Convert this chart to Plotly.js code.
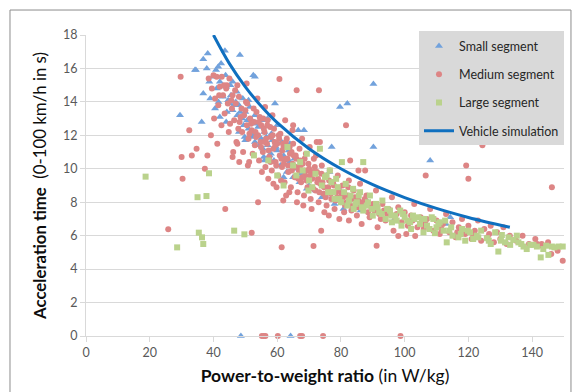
<!DOCTYPE html>
<html>
<head>
<meta charset="utf-8">
<script src="https://cdn.plot.ly/plotly-3.0.1.min.js"></script>
<style>html,body{margin:0;padding:0;background:#fff;}#chart{width:572px;height:392px;}</style>
</head>
<body>
<div id="chart"></div>
<script>
// Series names
const seriesNames = ["Small segment", "Medium segment", "Large segment", "Vehicle simulation"];

// Small segment (x: W/kg, y: s)
const smallX = [29.5,36.3,36.8,38.2,34.5,37.9,43.6,48.3,53.0,36.8,38.7,90.2,79.7,82.0,66.6,68.4,90.2,77.1,108,48.6,64.2,
  34.2,52.5,59.3,76.4,79.7,74.0,80.8,86.2,69.3,88.1,96.5,114.3,113,
  40,41,42,43,44,45,45.5,46,47,47.5,48,49,49.5,50,51,52,52.5,53,54,55,55.5,56,57,58,58.5,59,60,61,62,63,64,65,66,67,68,70,72,75,78,
  39,40.5,41.5,42,44,46,48,50,51,53,56,57,60,62,64,
  40.8,42.4,43.8,44.6,45.3,46.4,47.3,48.4,49.2,50.6,51.4,52.2,53.6,54.4,55.2,56.6,57.6,58.2,59.6,61.4,62.6,63.6,65.4,66.8,55.8,49.8,41.6,44.2];
const smallY = [13.2,12.8,16.55,16.9,15.9,16.0,17.06,16.8,15.5,14.5,15.2,15.07,13.7,13.9,12.3,12.3,11.3,11.3,10.5,0,0,
  15.9,15.6,13.9,9.8,8.7,8.3,7.6,7.5,8.8,8.1,6.9,7.1,6.7,
  15.5,14.8,15.2,14.3,14.9,13.9,14.4,13.5,14.0,13.2,13.8,13.0,12.6,13.4,12.4,12.9,12.0,11.6,12.5,11.8,11.2,12.2,11.4,10.9,11.7,10.5,11.1,10.2,10.8,9.8,10.4,9.5,10.0,9.2,9.7,9.0,8.7,8.4,7.9,
  14.2,13.6,16.1,13.1,12.8,15.2,12.2,11.7,14.1,13.2,10.5,13.0,12.6,9.5,11.5,
  15.9,16.3,15.6,14.1,15.0,13.8,14.6,13.4,14.2,12.9,13.7,11.9,12.7,11.4,12.9,11.9,10.8,12.1,11.3,11.6,10.5,11.1,10.6,9.7,10.7,11.9,14.0,13.4];

// Medium segment
const mediumX = [38.5,39.5,40,40.5,41,41.5,42,42.6,43,43.5,44,44.5,45,45.2,45.8,46,46.5,47,47.2,47.8,48,48.5,49,49.3,50,50.4,50.5,51,51.5,52,52.3,52.8,53,53.5,54,54.3,54.8,55,55.5,56,56.3,56.8,57,57.5,58,58.3,58.8,59,59.5,60,60.3,60.8,61,61.5,62,62.3,62.8,63,63.5,64,64.3,64.8,65,65.5,66,66.4,66.8,67,67.5,68,68.4,68.8,69,69.5,70,70.5,71,71.5,72,72.5,73,73.5,74,74.5,75,75.5,76,76.5,77,77.5,78,78.5,79,80,80.5,81,82,82.5,83,84,85,85.5,86,87,88,89,90,91,92,93,94,95,96,97,98,99,100,101,102,103,104,105,106,107,108,109,110,111,112,113,114,115,116,117,118,119,120,121,122,123,124,125,126,127,128,129,130,131,132,133,135,137,139,141,143,145,148,149.6,146,
  44.2,46.8,48.8,50.2,51.8,53.2,54.5,55.8,56.5,57.8,59.2,60.5,61.8,63.2,64.5,65.8,67.2,68.5,69.8,71.2,72.8,74.2,75.8,77.2,78.8,80.2,81.8,83.5,85.2,86.8,88.5,90.5,92.5,94.5,57.2,59.8,61.2,63.8,66.2,68.2,70.8,74.8,76.2,79.5,82.5,86.5,91.5,96.5,100.5,53.8,56.2,58.5,62.5,64.8,67.8,70.2,72.2,47.5,44.8,42.5,40.2,39.2,41.2,46.2,50.8,55.2,58.8,62.8,
  50.6,51.3,52.6,53.4,54.2,54.9,55.6,56.1,56.9,57.3,57.9,58.6,59.4,59.7,60.6,61.3,61.6,62.1,62.7,63.4,63.9,64.6,65.2,65.9,66.6,67.3,67.9,68.6,69.2,69.7,70.4,71.3,71.8,72.6,73.2,73.9,74.7,75.2,76.3,76.8,77.8,78.3,79.3,80.7,81.3,82.3,83.3,84.4,85.8,87.5,89.5,93.5,97.5,102.5,106.5,111.5,116.5,121.5,126.5,48.2,49.6,45.6,43.3,41.8,
  25.8,43.7,52.0,54.0,61.9,61.4,73.8,71.4,91.2,98.0,103.3,29.7,32.4,30.0,33.2,34.7,38.1,30.3,37.3,60.7,66.1,73.1,81.6,124.4,119.3,106.6,120,146.2,46,48.1,51.2,47.5,82.9,85.5,87.6,65,72.4,73.4,141.6,143,
  55.2,55.8,56.3,60.2,67.2,67.8,74.4,98.7];
const mediumY = [15.4,14.8,15.6,14.2,15.5,13.8,14.9,15.5,14.4,13.3,14.8,13.9,15.4,12.7,13.6,14.4,12.9,13.9,11.6,12.4,14.3,13.1,12.2,11.0,13.5,15.1,12.6,11.8,13.0,12.3,10.9,12.8,11.4,13.4,12.0,10.5,11.6,12.6,11.0,12.2,10.1,11.5,12.9,10.7,11.9,9.9,11.2,12.4,10.4,11.5,9.6,10.8,12.1,10.1,11.3,9.2,10.6,11.8,9.8,10.9,8.9,10.3,11.5,9.5,10.6,8.6,9.9,11.2,9.2,10.3,8.4,9.6,10.9,8.9,10.0,8.2,9.4,10.6,8.7,9.8,8.0,9.1,10.2,8.5,9.5,7.8,8.9,9.9,8.2,9.2,7.6,8.6,9.6,8.0,9.0,7.4,8.4,9.3,7.8,8.7,7.2,8.1,9.1,7.6,8.4,7.1,7.9,8.7,7.3,7.9,6.9,7.6,8.3,7.1,7.7,6.8,7.4,6.6,7.2,7.9,6.5,7.1,6.4,7.0,7.6,6.3,6.9,6.1,6.7,7.3,6.2,6.8,5.9,6.5,7.0,6.1,6.6,5.8,6.3,6.9,5.7,6.4,5.9,6.6,5.6,6.2,5.8,6.5,5.5,6.0,5.7,6.0,5.5,5.8,5.4,5.6,5.1,4.5,4.9,
  15.0,14.7,13.6,14.0,12.7,12.2,13.1,12.4,11.8,12.5,11.6,12.0,11.5,10.6,11.0,10.8,10.5,9.9,10.3,9.8,9.4,9.2,8.8,8.6,8.3,8.5,8.0,8.2,7.7,8.0,7.4,7.5,7.0,7.3,9.4,8.9,9.3,8.6,8.0,7.8,7.6,7.4,7.2,7.0,6.9,6.7,6.5,6.3,6.1,14.2,13.7,13.2,12.9,12.3,11.8,11.3,10.8,15.0,12.2,12.6,13.0,12.0,11.5,11.0,10.2,9.8,9.1,8.4,
  13.9,12.1,13.6,11.9,12.8,11.3,13.0,11.6,12.6,11.1,10.4,12.0,11.4,10.2,11.8,10.6,11.1,10.3,11.6,10.2,11.3,9.9,10.8,10.1,9.4,10.2,9.5,10.6,9.3,9.9,9.6,8.8,10.1,9.2,8.6,9.7,8.9,8.3,9.3,8.5,9.0,8.1,8.8,8.3,7.8,8.9,7.5,8.3,7.9,8.2,7.7,7.5,7.3,6.9,6.7,6.4,6.2,6.0,6.1,12.8,13.2,14.1,15.0,14.4,
  6.38,7.6,6.18,8.0,8.1,5.3,6.3,5.38,5.4,5.98,5.98,15.5,12.3,10.7,10.8,11.2,10.8,9.4,10.0,15.37,14.7,14.7,12.6,11.4,10.2,9.6,9.4,8.9,10.7,10.4,10.4,11.5,10.5,9.9,9.9,12.6,11.6,11.6,5.5,5.5,
  0,0,0,0,0,0,0,0];

// Large segment
const largeX = [18.7,28.6,35.0,37.8,35.4,36.4,36.8,46.5,49.7,38.6,
  65,66,68,69.3,70,71,72,73.4,74,75,75.5,76,77,77.6,78,79,80.3,80,81,82,83,84,85,86,87,87,88.1,89.1,90,91,92,93,94,95.4,96,97,98.6,99,100,101.7,102,103,104.3,105.4,105.9,107,108.5,109,109.5,110,111,112.7,113.2,114,115,116.9,118,119,120.5,121.5,123.1,124,125.8,127,128.4,129.4,130.5,131.5,132.6,133.1,134.1,135.2,135.7,137.3,138.3,139.4,140.4,141.5,142.7,143.5,145.1,146.2,147,148.3,149.6,
  52.7,57.2,63.2,67.2,69.8,60,62,
  76.5,78.5,79.5,81.5,82.5,83.8,84.6,85.6,86.6,88.5,89.8,91.5,92.8,94.5,95.8,97.5,99.5,100.8,102.6,104.8,106.2,107.8,110.6,112.2,114.6,117.6,119.8,122.6,126.4,130.2,136.6,144.4];
const largeY = [9.53,5.3,8.3,8.37,6.18,5.9,5.5,6.3,6.08,9.73,
  10.2,9.6,9.9,10.9,9.3,8.9,9.7,11.2,9.0,9.5,9.6,8.6,9.2,8.6,8.2,8.9,10.4,8.0,8.6,7.8,8.4,7.6,8.0,8.6,10.4,7.5,7.8,8.4,7.2,7.9,7.4,8.1,7.0,7.5,6.8,7.2,7.5,6.6,7.1,6.8,6.4,7.0,7.1,7.0,6.2,6.6,7.1,7.0,6.15,6.5,6.8,6.9,5.6,6.3,6.0,5.9,6.4,5.7,6.2,5.8,5.9,6.3,5.85,5.5,6.2,5.05,6.04,5.6,5.9,5.45,5.75,6.0,5.6,5.35,5.2,5.45,5.45,5.35,4.7,5.2,4.85,5.35,5.3,5.35,5.35,
  10.8,10.5,11.3,10.4,8.7,9.6,9.0,
  9.9,9.4,8.2,9.1,8.1,8.8,7.9,8.4,7.7,8.0,7.6,7.7,7.3,7.6,7.2,6.9,7.3,6.9,7.2,6.7,7.0,6.4,6.7,6.3,6.5,6.1,6.3,6.0,5.7,5.7,5.5,5.4];

// Vehicle simulation curve
const simX = [40,45,50,55,60,70,80,90,100,110,120,133];
const simY = [18,16.29,14.9,13.74,12.76,11.2,10.0,9.05,8.28,7.63,7.09,6.5];

const FONT = "Lato, 'Open Sans', sans-serif";

const traces = [
  {x: smallX, y: smallY, name: seriesNames[0], type: 'scatter', mode: 'markers', legendgroup: 'a', cliponaxis: false,
   marker: {symbol: 'triangle-up', size: 7, color: '#72a2dc'}},
  {x: mediumX, y: mediumY, name: seriesNames[1], type: 'scatter', mode: 'markers', legendgroup: 'b', cliponaxis: false,
   marker: {symbol: 'circle', size: 6, color: '#dd8585'}},
  {x: largeX, y: largeY, name: seriesNames[2], type: 'scatter', mode: 'markers', legendgroup: 'c', cliponaxis: false,
   marker: {symbol: 'square', size: 6, color: '#bad28c'}},
  {x: simX, y: simY, name: seriesNames[3], type: 'scatter', mode: 'lines', legendgroup: 'd',
   line: {color: '#0f6fbf', width: 3, shape: 'spline'}}
];

const layout = {
  width: 572, height: 392,
  margin: {l: 86, r: 8, t: 35, b: 56, autoexpand: false},
  paper_bgcolor: '#ffffff', plot_bgcolor: '#ffffff',
  font: {family: FONT, size: 12, color: '#595959'},
  showlegend: true,
  legend: {x: 1.0, y: 1.012, xanchor: 'right', yanchor: 'top', bgcolor: '#d9d9d9',
    font: {family: FONT, size: 12.5, color: '#262626'}, traceorder: 'grouped', tracegroupgap: 9},
  xaxis: {range: [0, 150], tick0: 0, dtick: 20, showgrid: false, zeroline: false,
    showline: true, linecolor: '#d9d9d9', ticks: 'outside', ticklen: 5, tickcolor: '#d9d9d9',
    tickfont: {family: FONT, size: 12.5, color: '#595959'},
    title: {text: '<b>Power-to-weight ratio</b> (in W/kg)', font: {family: FONT, size: 17.5, color: '#0d0d0d'}, standoff: 10}},
  yaxis: {range: [0, 18], tick0: 0, dtick: 2, showgrid: true, gridcolor: '#d9d9d9', zeroline: false,
    showline: true, linecolor: '#d9d9d9', ticks: 'outside', ticklen: 5, tickcolor: '#d9d9d9',
    tickfont: {family: FONT, size: 12.5, color: '#595959'},
    title: {text: '<b>Acceleration time</b>  (0-100 km/h in s)', font: {family: FONT, size: 16.8, color: '#0d0d0d'}, standoff: 12}},
  shapes: [{type: 'rect', xref: 'paper', yref: 'paper', x0: -0.159, x1: 1.0146, y0: -0.22, y1: 1.083,
    line: {color: '#8c8c8c', width: 1}, fillcolor: 'rgba(0,0,0,0)', layer: 'below'}]
};

Plotly.newPlot('chart', traces, layout, {displayModeBar: false, staticPlot: true});
</script>
</body>
</html>
